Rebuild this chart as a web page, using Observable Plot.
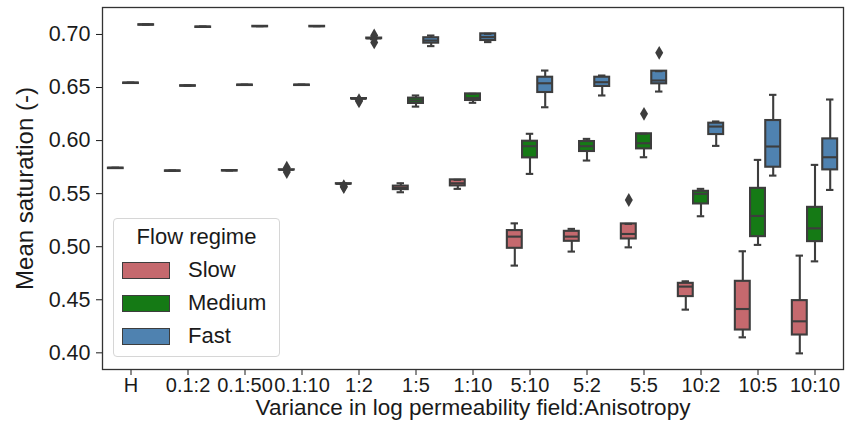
<!DOCTYPE html>
<html>
<head>
<meta charset="utf-8">
<script src="https://cdn.jsdelivr.net/npm/d3@7"></script>
<script src="https://cdn.jsdelivr.net/npm/@observablehq/plot@0.6"></script>
<style>
  body { margin: 0; background: #fff; }
  #wrap { position: relative; width: 846px; height: 434px; font-family: "Liberation Sans", Arial, sans-serif; }
  #chart svg [aria-label^="y-axis"] text { font-size: 21.5px; }
  #legend { position: absolute; left: 113px; top: 218px; width: 167px; height: 139px; box-sizing: border-box;
    border: 1px solid #d6d6d6; border-radius: 4px; background: rgba(255,255,255,0.85); color: #1a1a1a; }
  #legend .title { position: absolute; left: 0; width: 100%; top: 5px; text-align: center; font-size: 22px; line-height: 26px; }
  #legend .row { position: absolute; left: 8px; height: 20px; display: flex; align-items: center; font-size: 22px; }
  #legend .sw { width: 48px; height: 17px; box-sizing: border-box; border: 1px solid #3d3d3d; margin-right: 18px; }
</style>
</head>
<body>
<div id="wrap"><div id="chart"></div><div id="legend"></div></div>
<script>
const categories = ["H", "0.1:2", "0.1:50", "0.1:10", "1:2", "1:5", "1:10", "5:10", "5:2", "5:5", "10:2", "10:5", "10:10"];
const hues = ["Slow", "Medium", "Fast"];
const hueColors = ["#c5696e", "#157a15", "#4f82b0"];
const yTicks = [0.40, 0.45, 0.50, 0.55, 0.60, 0.65, 0.70];

// [lower whisker, q1, median, q3, upper whisker] per category
const slowStats = [
  [0.5743, 0.5743, 0.5743, 0.5743, 0.5743],
  [0.5717, 0.5717, 0.5717, 0.5717, 0.5717],
  [0.5720, 0.5720, 0.5720, 0.5720, 0.5720],
  [0.5724, 0.5723, 0.5724, 0.5725, 0.5726],
  [0.5588, 0.5590, 0.5592, 0.5594, 0.5596],
  [0.5513, 0.5538, 0.5554, 0.5571, 0.5598],
  [0.5545, 0.5573, 0.5598, 0.5630, 0.5630],
  [0.4822, 0.4985, 0.5095, 0.5152, 0.5220],
  [0.4954, 0.5051, 0.5095, 0.5145, 0.5168],
  [0.4994, 0.5073, 0.5120, 0.5215, 0.5215],
  [0.4407, 0.4530, 0.4624, 0.4655, 0.4674],
  [0.4146, 0.4215, 0.4413, 0.4674, 0.4957],
  [0.3995, 0.4168, 0.4297, 0.4492, 0.4916]
];
const mediumStats = [
  [0.6545, 0.6545, 0.6545, 0.6545, 0.6545],
  [0.6519, 0.6519, 0.6519, 0.6519, 0.6519],
  [0.6526, 0.6526, 0.6526, 0.6526, 0.6526],
  [0.6526, 0.6526, 0.6526, 0.6526, 0.6526],
  [0.6390, 0.6392, 0.6394, 0.6396, 0.6398],
  [0.6320, 0.6350, 0.6378, 0.6400, 0.6425],
  [0.6356, 0.6378, 0.6400, 0.6440, 0.6440],
  [0.5686, 0.5837, 0.5947, 0.5994, 0.6064],
  [0.5812, 0.5897, 0.5947, 0.5991, 0.6016],
  [0.5843, 0.5922, 0.5975, 0.6064, 0.6064],
  [0.5287, 0.5403, 0.5498, 0.5522, 0.5545],
  [0.5017, 0.5095, 0.5290, 0.5550, 0.5818],
  [0.4862, 0.5048, 0.5173, 0.5371, 0.5771]
];
const fastStats = [
  [0.7094, 0.7094, 0.7094, 0.7094, 0.7094],
  [0.7073, 0.7073, 0.7073, 0.7073, 0.7073],
  [0.7079, 0.7079, 0.7079, 0.7079, 0.7079],
  [0.7079, 0.7079, 0.7079, 0.7079, 0.7079],
  [0.6955, 0.6960, 0.6963, 0.6966, 0.6970],
  [0.6890, 0.6918, 0.6943, 0.6969, 0.6990],
  [0.6928, 0.6943, 0.6975, 0.7006, 0.7006],
  [0.6314, 0.6453, 0.6540, 0.6597, 0.6660],
  [0.6425, 0.6510, 0.6550, 0.6597, 0.6613],
  [0.6462, 0.6535, 0.6566, 0.6654, 0.6654],
  [0.5950, 0.6057, 0.6132, 0.6164, 0.6180],
  [0.5670, 0.5749, 0.5944, 0.6189, 0.6431],
  [0.5535, 0.5724, 0.5843, 0.6016, 0.6387]
];
// outliers: [category, hue, value]
const outliers = [
  ["0.1:10", "Slow", 0.5745], ["0.1:10", "Slow", 0.5703],
  ["1:2", "Slow", 0.5562], ["1:2", "Slow", 0.5570],
  ["1:2", "Medium", 0.6370], ["1:2", "Medium", 0.6380],
  ["1:2", "Fast", 0.6990], ["1:2", "Fast", 0.6925],
  ["5:5", "Fast", 0.6827], ["5:5", "Medium", 0.6252], ["5:5", "Slow", 0.5440]
];

const statsByHue = [slowStats, mediumStats, fastStats];
const rows = [];
hues.forEach((h, hi) => statsByHue[hi].forEach((s, ci) => rows.push({
  cat: categories[ci], hue: h, lo: s[0], q1: s[1], med: s[2], q3: s[3], hi: s[4]
})));
const flierRows = outliers.map(([cat, hue, v]) => ({cat, hue, v}));

const W = 846, H = 434, ML = 102, MR = 3, MT = 7, MB = 65;
const bw = (W - ML - MR) / categories.length;
const hueOff = [-0.8 / 3, 0, 0.8 / 3].map(o => o * bw);
const boxW = 0.8 / 3 * 0.98 * bw;
const boxInset = (bw - boxW) / 2;
const capInset = (bw - boxW / 2) / 2;
const edge = "#3d3d3d";
const lw = 2.1;

const marks = [];
hues.forEach((h, hi) => {
  const d = rows.filter(r => r.hue === h);
  const f = flierRows.filter(r => r.hue === h);
  const dx = hueOff[hi];
  marks.push(
    Plot.ruleX(d, {x: "cat", y1: "lo", y2: "q1", stroke: edge, strokeWidth: lw, dx}),
    Plot.ruleX(d, {x: "cat", y1: "q3", y2: "hi", stroke: edge, strokeWidth: lw, dx}),
    Plot.barY(d.filter(r => r.q3 > r.q1), {x: "cat", y1: "q1", y2: "q3", fill: hueColors[hi], stroke: edge, strokeWidth: lw, insetLeft: boxInset, insetRight: boxInset, dx}),
    Plot.tickY(d, {x: "cat", y: "med", stroke: edge, strokeWidth: lw, insetLeft: boxInset, insetRight: boxInset, dx}),
    Plot.tickY(d.filter(r => r.q3 === r.q1), {x: "cat", y: "med", stroke: edge, strokeWidth: 2.6, insetLeft: boxInset - 1, insetRight: boxInset - 1, dx}),
    Plot.tickY(d, {x: "cat", y: "lo", stroke: edge, strokeWidth: lw, insetLeft: capInset, insetRight: capInset, dx}),
    Plot.tickY(d, {x: "cat", y: "hi", stroke: edge, strokeWidth: lw, insetLeft: capInset, insetRight: capInset, dx}),
    Plot.dot(f, {x: "cat", y: "v", symbol: "diamond", r: 4.2, fill: edge, stroke: "none", dx})
  );
});

const chart = Plot.plot({
  width: W, height: H,
  marginLeft: ML, marginRight: MR, marginTop: MT, marginBottom: MB,
  style: {fontSize: "20px", fontFamily: "'Liberation Sans', Arial, sans-serif", color: "#1a1a1a", background: "#fff"},
  x: {type: "band", domain: categories, padding: 0, label: null, tickSize: 6, tickPadding: 2},
  y: {domain: [0.3843, 0.7254], ticks: yTicks, tickFormat: d3.format(".2f"), tickSize: 6, tickPadding: 6, label: null},
  marks: [
    ...marks,
    Plot.frame({stroke: "#333", strokeWidth: 1.3}),
    Plot.text(["Mean saturation (-)"], {frameAnchor: "left", textAnchor: "middle", dx: -77, rotate: -90, fontSize: 24, fill: "#1a1a1a"}),
    Plot.text(["Variance in log permeability field:Anisotropy"], {frameAnchor: "bottom", dy: 45, fontSize: 22.5, fill: "#1a1a1a"})
  ]
});
document.getElementById("chart").appendChild(chart);

const leg = document.getElementById("legend");
leg.innerHTML = `<div class="title">Flow regime</div>` + hues.map((h, i) =>
  `<div class="row" style="top:${41 + i * 33}px"><div class="sw" style="background:${hueColors[i]}"></div>${h}</div>`).join("");
</script>
</body>
</html>
